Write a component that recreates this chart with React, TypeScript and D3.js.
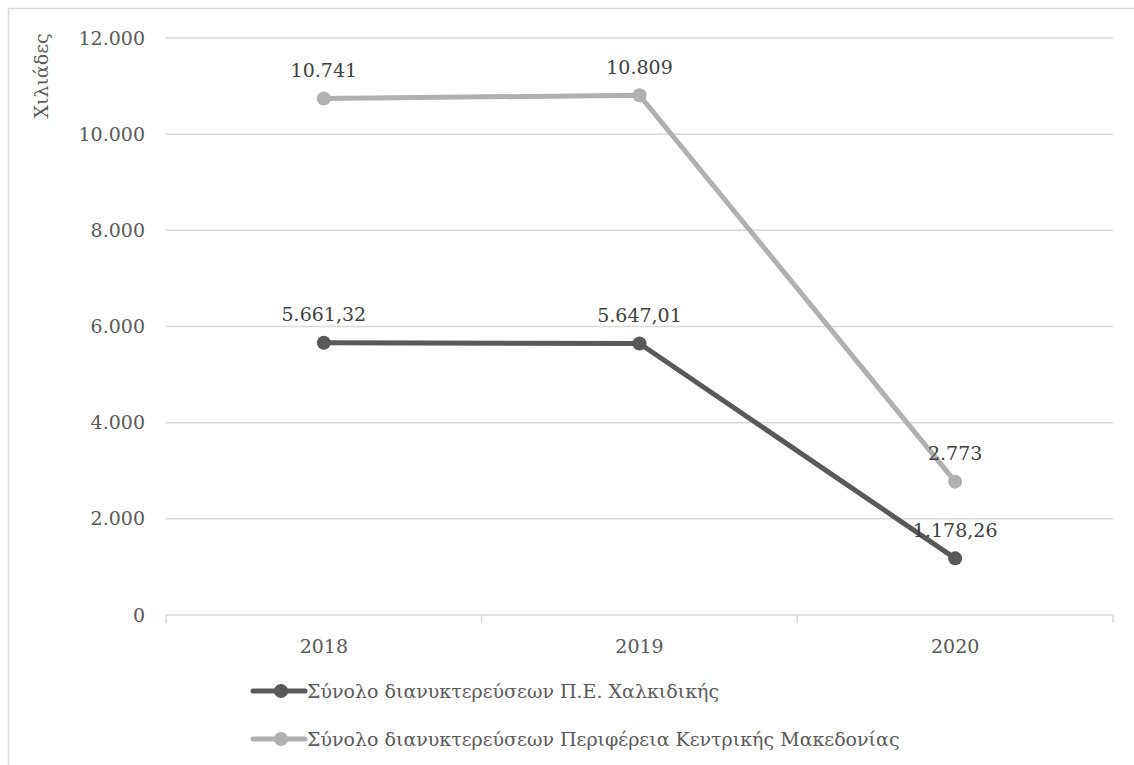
import React from "react";
import * as d3 from "d3";

const years = ["2018", "2019", "2020"];
const chalkidikiValues = [5661.32, 5647.01, 1178.26];
const chalkidikiLabels = ["5.661,32", "5.647,01", "1.178,26"];
const macedoniaValues = [10741, 10809, 2773];
const macedoniaLabels = ["10.741", "10.809", "2.773"];
const yTicks = [0, 2000, 4000, 6000, 8000, 10000, 12000];
const yTickLabels = ["0", "2.000", "4.000", "6.000", "8.000", "10.000", "12.000"];
const seriesNames = [
  "Σύνολο διανυκτερεύσεων Π.Ε. Χαλκιδικής",
  "Σύνολο διανυκτερεύσεων Περιφέρεια Κεντρικής Μακεδονίας",
];
const axisTitle = "Χιλιάδες";

const W = 1134;
const H = 765;
const plot = { left: 166, right: 1113, top: 38, bottom: 615 };
const textColor = "#595959";
const gridColor = "#d9d9d9";
const font = '"DejaVu Serif", serif';
const fontSize = 19;

export default function App() {
  const x = d3.scaleBand<string>().domain(years).range([plot.left, plot.right]);
  const y = d3.scaleLinear().domain([0, 12000]).range([plot.bottom, plot.top]);
  const cx = (i: number) => (x(years[i]) as number) + x.bandwidth() / 2;
  const line = d3
    .line<number>()
    .x((_, i) => cx(i))
    .y((d) => y(d));

  const series = [
    { values: macedoniaValues, labels: macedoniaLabels, color: "#b0b0b0" },
    { values: chalkidikiValues, labels: chalkidikiLabels, color: "#595959" },
  ];
  const legend = [
    { name: seriesNames[0], color: "#595959", y: 691 },
    { name: seriesNames[1], color: "#b0b0b0", y: 739 },
  ];
  const boundaries = [...years.map((yr) => x(yr) as number), plot.right];

  return (
    <svg
      width={W}
      height={H}
      style={{ position: "absolute", left: 0, top: 0, background: "#fff", fontFamily: font }}
    >
      <path d={`M8.5,${H} V8.5 H${W}`} fill="none" stroke={gridColor} strokeWidth={1.5} />
      {yTicks.map((t, i) => (
        <g key={t}>
          <line
            x1={plot.left}
            x2={plot.right}
            y1={y(t)}
            y2={y(t)}
            stroke={gridColor}
            strokeWidth={1.5}
          />
          <text
            x={145}
            y={y(t)}
            dy="0.35em"
            textAnchor="end"
            fontSize={fontSize}
            fill={textColor}
          >
            {yTickLabels[i]}
          </text>
        </g>
      ))}
      {boundaries.map((b, i) => (
        <line
          key={i}
          x1={b}
          x2={b}
          y1={plot.bottom}
          y2={plot.bottom + 8}
          stroke={gridColor}
          strokeWidth={1.5}
        />
      ))}
      {years.map((yr, i) => (
        <text
          key={yr}
          x={cx(i)}
          y={646}
          dy="0.35em"
          textAnchor="middle"
          fontSize={fontSize}
          fill={textColor}
        >
          {yr}
        </text>
      ))}
      <text
        transform={`translate(41,76) rotate(-90)`}
        textAnchor="middle"
        dy="0.35em"
        fontSize={fontSize}
        fill={textColor}
      >
        {axisTitle}
      </text>
      {series.map((s, si) => (
        <g key={si}>
          <path
            d={line(s.values) as string}
            fill="none"
            stroke={s.color}
            strokeWidth={5}
            strokeLinejoin="round"
          />
          {s.values.map((v, i) => (
            <circle key={i} cx={cx(i)} cy={y(v)} r={7} fill={s.color} />
          ))}
          {s.values.map((v, i) => (
            <text
              key={"l" + i}
              x={cx(i)}
              y={y(v) - 28}
              dy="0.35em"
              textAnchor="middle"
              fontSize={fontSize}
              fill="#404040"
            >
              {s.labels[i]}
            </text>
          ))}
        </g>
      ))}
      {legend.map((l) => (
        <g key={l.name}>
          <line x1={253} x2={305} y1={l.y} y2={l.y} stroke={l.color} strokeWidth={5} strokeLinecap="round" />
          <circle cx={281} cy={l.y} r={7} fill={l.color} />
          <text x={307} y={l.y} dy="0.35em" fontSize={fontSize} fill={textColor}>
            {l.name}
          </text>
        </g>
      ))}
    </svg>
  );
}
